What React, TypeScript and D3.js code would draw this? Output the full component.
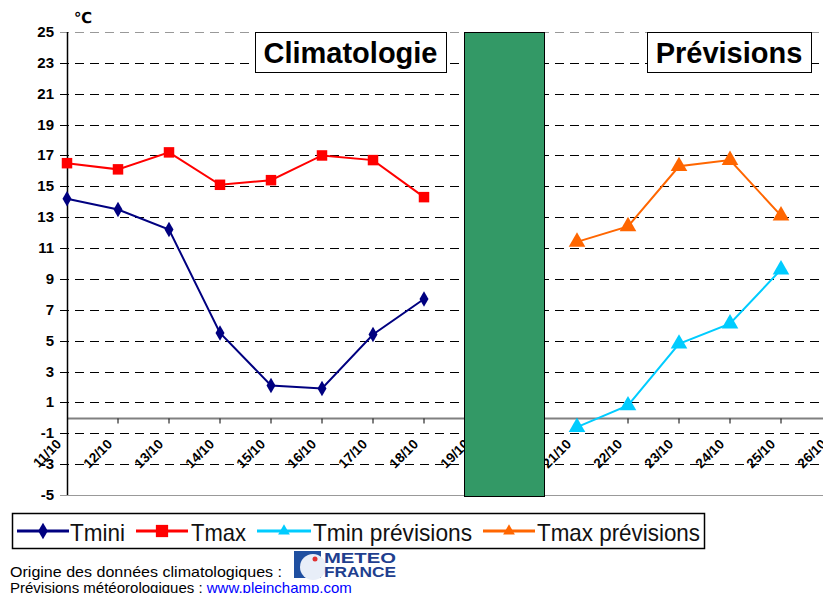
import { useEffect, useRef } from 'react';
import * as d3 from 'd3';

const dates = ["11/10", "12/10", "13/10", "14/10", "15/10", "16/10", "17/10", "18/10",
  "19/10", "20/10", "21/10", "22/10", "23/10", "24/10", "25/10", "26/10"];
const climDates = ["11/10", "12/10", "13/10", "14/10", "15/10", "16/10", "17/10", "18/10"];
const tmini = [14.2, 13.5, 12.2, 5.5, 2.1, 1.9, 5.4, 7.7];
const tmax = [16.5, 16.1, 17.2, 15.1, 15.4, 17.0, 16.7, 14.3];
const prevDates = ["21/10", "22/10", "23/10", "24/10", "25/10"];
const tminPrev = [-0.6, 0.8, 4.8, 6.1, 9.6];
const tmaxPrev = [11.4, 12.4, 16.3, 16.7, 13.1];
const yTicks = [25, 23, 21, 19, 17, 15, 13, 11, 9, 7, 5, 3, 1, -1, -3, -5];
const legendLabels = ["Tmini", "Tmax", "Tmin prévisions", "Tmax prévisions"];

const W = 823;
const H = 593;
const FONT = "Liberation Sans, Arial, sans-serif";

export default function App() {
  const svgRef = useRef<SVGSVGElement>(null);

  useEffect(() => {
    if (!svgRef.current) return;
    const svg = d3.select(svgRef.current);
    svg.selectAll("*").remove();

    const x = d3.scalePoint<string>().domain(dates).range([67, 67 + 51 * (dates.length - 1)]);
    const y = d3.scaleLinear().domain([-5, 25]).range([495, 32]);
    const step = x.step();

    svg.append("rect").attr("width", W).attr("height", H).attr("fill", "#fff");

    // grid
    svg.append("g").selectAll("line")
      .data(yTicks)
      .join("line")
      .attr("x1", 60).attr("x2", W)
      .attr("y1", d => Math.round(y(d)) + 0.5).attr("y2", d => Math.round(y(d)) + 0.5)
      .attr("stroke", d => (d === 25 || d === -5) ? "#999" : "#000")
      .attr("stroke-width", 1)
      .attr("stroke-dasharray", d => d === -5 ? null : "9,6");

    // y labels
    svg.append("g").selectAll("text")
      .data(yTicks)
      .join("text")
      .attr("x", 54).attr("y", d => y(d) + 5)
      .attr("text-anchor", "end")
      .attr("font-family", FONT).attr("font-weight", "bold").attr("font-size", 15)
      .text(d => d);

    svg.append("text")
      .attr("x", 74).attr("y", 23)
      .attr("font-family", "DejaVu Sans, sans-serif").attr("font-weight", "bold").attr("font-size", 15)
      .text("℃");

    // x axis at 0
    const y0 = Math.round(y(0)) + 0.5;
    svg.append("line").attr("x1", 67).attr("x2", W).attr("y1", y0).attr("y2", y0)
      .attr("stroke", "#808080").attr("stroke-width", 2);
    svg.append("g").selectAll("line")
      .data(dates.slice(1))
      .join("line")
      .attr("x1", d => x(d)!).attr("x2", d => x(d)!)
      .attr("y1", y0).attr("y2", y0 + 5)
      .attr("stroke", "#000");

    svg.append("g").selectAll("text")
      .data(dates)
      .join("text")
      .attr("transform", d => `translate(${x(d)! - 5},445) rotate(-45)`)
      .attr("text-anchor", "end")
      .attr("font-family", FONT).attr("font-weight", "bold").attr("font-size", 13.5)
      .text(d => d);

    // y axis
    svg.append("line").attr("x1", 67.5).attr("x2", 67.5).attr("y1", y(25)).attr("y2", y(-5))
      .attr("stroke", "#000").attr("stroke-width", 1.5);

    // green separator
    const gx0 = x("19/10")! - 0.22 * step;
    const gx1 = x("20/10")! + 0.35 * step;
    svg.append("rect")
      .attr("x", Math.round(gx0) + 0.5).attr("y", y(25) + 0.5)
      .attr("width", Math.round(gx1 - gx0)).attr("height", y(-5) - y(25) + 1)
      .attr("fill", "#339966").attr("stroke", "#000").attr("stroke-width", 1);

    // title boxes
    const titleBox = (x0: number, x1: number, label: string) => {
      svg.append("rect").attr("x", x0 + 0.5).attr("y", 32.5).attr("width", x1 - x0).attr("height", 40)
        .attr("fill", "#fff").attr("stroke", "#000");
      svg.append("text")
        .attr("x", (x0 + x1) / 2).attr("y", 63)
        .attr("text-anchor", "middle")
        .attr("font-family", FONT).attr("font-weight", "bold").attr("font-size", 29)
        .text(label);
    };
    titleBox(255, 446, "Climatologie");
    titleBox(647, 811, "Prévisions");

    const line = d3.line<[string, number]>().x(d => x(d[0])!).y(d => y(d[1]));

    const diamond = d3.symbol().type(d3.symbolDiamond).size(70);
    const square = d3.symbol().type(d3.symbolSquare).size(110);
    const tri = d3.symbol().type(d3.symbolTriangle).size(120);

    const series = [
      { keys: climDates, vals: tmini, color: "#000080", sym: diamond },
      { keys: climDates, vals: tmax, color: "#ff0000", sym: square },
      { keys: prevDates, vals: tminPrev, color: "#00ccff", sym: tri },
      { keys: prevDates, vals: tmaxPrev, color: "#ff6600", sym: tri },
    ];

    series.forEach(s => {
      const pts: [string, number][] = s.keys.map((k, i) => [k, s.vals[i]]);
      svg.append("path").attr("d", line(pts)).attr("fill", "none")
        .attr("stroke", s.color).attr("stroke-width", 2);
      svg.append("g").selectAll("path")
        .data(pts)
        .join("path")
        .attr("transform", d => `translate(${x(d[0])},${y(d[1])})`)
        .attr("d", s.sym() as string)
        .attr("fill", s.color);
    });

    // legend
    svg.append("rect").attr("x", 12.5).attr("y", 513.5).attr("width", 692).attr("height", 35)
      .attr("fill", "#fff").attr("stroke", "#000").attr("stroke-width", 1.5);
    const legendPos = [
      { lx: 17, lw: 52, tx: 70, tw: 55 },
      { lx: 136, lw: 52, tx: 191, tw: 55 },
      { lx: 257, lw: 54, tx: 313, tw: 159 },
      { lx: 483, lw: 52, tx: 537, tw: 163 },
    ];
    const legendSyms = [
      d3.symbol().type(d3.symbolDiamond).size(80),
      d3.symbol().type(d3.symbolSquare).size(150),
      d3.symbol().type(d3.symbolTriangle).size(60),
      d3.symbol().type(d3.symbolTriangle).size(60),
    ];
    legendLabels.forEach((lab, i) => {
      const p = legendPos[i];
      const c = series[i].color;
      svg.append("line").attr("x1", p.lx).attr("x2", p.lx + p.lw).attr("y1", 531).attr("y2", 531)
        .attr("stroke", c).attr("stroke-width", 3);
      svg.append("path").attr("transform", `translate(${p.lx + p.lw / 2},531)`)
        .attr("d", legendSyms[i]() as string).attr("fill", c);
      svg.append("text")
        .attr("x", p.tx).attr("y", 541)
        .attr("font-family", "Liberation Sans Narrow, Arial Narrow, Liberation Sans, sans-serif")
        .attr("font-size", 24).attr("fill", "#111")
        .attr("textLength", p.tw).attr("lengthAdjust", "spacingAndGlyphs")
        .text(lab);
    });

    // source notes
    svg.append("text").attr("x", 10).attr("y", 577)
      .attr("font-family", FONT).attr("font-size", 15)
      .attr("textLength", 272).attr("lengthAdjust", "spacingAndGlyphs")
      .text("Origine des données climatologiques :");
    const t2 = svg.append("text").attr("x", 10).attr("y", 593)
      .attr("font-family", FONT).attr("font-size", 15);
    t2.append("tspan").text("Prévisions météorologiques : ");
    t2.append("tspan").attr("fill", "#0000ff").text("www.pleinchamp.com");

    // Meteo France logo
    const logo = svg.append("g").attr("transform", "translate(293,550)");
    logo.append("rect").attr("width", 104).attr("height", 29).attr("fill", "#fff");
    logo.append("rect").attr("x", 1).attr("y", 1).attr("width", 27).attr("height", 27).attr("fill", "#1f4fa0");
    logo.append("circle").attr("cx", 20).attr("cy", 17).attr("r", 13).attr("fill", "#e8eef8");
    logo.append("circle").attr("cx", 22).attr("cy", 9).attr("r", 2.5).attr("fill", "#e03030");
    logo.append("text").attr("x", 31).attr("y", 13).attr("font-family", FONT).attr("font-weight", "bold")
      .attr("font-size", 15).attr("fill", "#1f3f8f").attr("textLength", 72).attr("lengthAdjust", "spacingAndGlyphs")
      .text("METEO");
    logo.append("text").attr("x", 31).attr("y", 27).attr("font-family", FONT).attr("font-weight", "bold")
      .attr("font-size", 15).attr("fill", "#1f3f8f").attr("textLength", 72).attr("lengthAdjust", "spacingAndGlyphs")
      .text("FRANCE");
  }, []);

  return (
    <svg ref={svgRef} width={W} height={H}
      style={{ position: "absolute", left: 0, top: 0, display: "block" }} />
  );
}
